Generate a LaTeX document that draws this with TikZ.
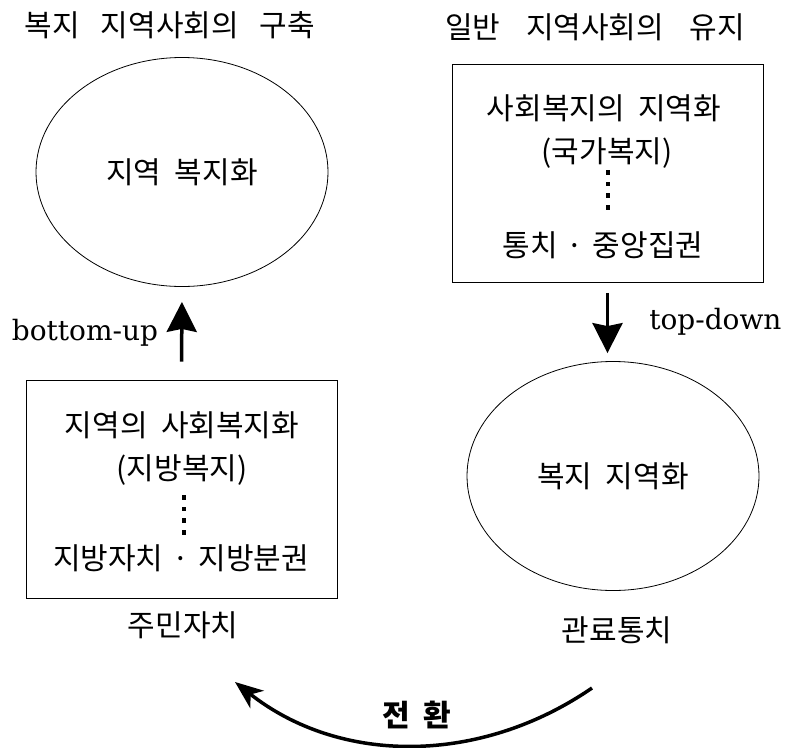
\documentclass[tikz,border=0pt]{standalone}
\usepackage{fontspec}
\setmainfont{DejaVu Serif}
\newfontfamily\kr[WordSpace=2.0]{Noto Sans CJK KR}
\usetikzlibrary{shapes.geometric,arrows.meta}

\begin{document}
\begin{tikzpicture}[x=1pt,y=-1pt,
    hangul/.style={font=\kr\fontsize{30}{34}\selectfont,inner sep=0pt},
    latin/.style={font=\fontsize{28}{32}\selectfont,inner sep=0pt},
    oval/.style={draw,ellipse,line width=0.8pt,minimum width=292pt,minimum height=229pt,hangul},
    panel/.style={draw,rectangle,line width=0.8pt,minimum width=311pt,minimum height=218pt,inner sep=0pt},
    flow/.style={line width=3.5pt,-{Stealth[length=30pt,width=30pt,inset=3pt]}}]
      % \draw[help lines](0,0) grid (787,747);
      \useasboundingbox (0,0) rectangle (787,747);

      \draw (170,25) node[hangul] (ltitle) {복지\hspace{0.7em}지역사회의\hspace{0.7em}구축};
      \draw (595,27) node[hangul] (rtitle) {일반\hspace{0.85em}지역사회의\hspace{0.85em}유지};

      \draw (182,172) node[oval] (lwelfare) {지역 복지화};
      \draw (613,476) node[oval] (rwelfare) {복지 지역화};

      \draw (607.5,173.5) node[panel] (rpanel) {};
      \draw (604,108) node[hangul] (rline1) {사회복지의 지역화};
      \draw (607,153) node[hangul] (rline2) {(국가복지)};
      \draw (603,245) node[hangul] (rline3) {통치\hspace{0.3em}·\hspace{0.3em}중앙집권};
      \foreach \d in {0,...,3}
        \fill (605.7,170+\d*11.7) rectangle ++(4.6,4.6);

      \draw (181.5,489) node[panel] (lpanel) {};
      \draw (182,425) node[hangul] (lline1) {지역의 사회복지화};
      \draw (182,470) node[hangul] (lline2) {(지방복지)};
      \draw (181,558) node[hangul] (lline3) {지방자치\hspace{0.3em}·\hspace{0.3em}지방분권};
      \foreach \d in {0,...,3}
        \fill (181.7,495+\d*11.7) rectangle ++(4.6,4.6);

      \draw (183,625) node[hangul] (residents) {주민자치};
      \draw (617,630) node[hangul] (bureau) {관료통치};

      \draw[flow,shorten <=18pt,shorten >=15pt] (lpanel.north) -- (lwelfare.south)
        node [midway,left=22pt,latin] (bottomup) {bottom-up};
      \draw[flow,shorten <=10pt,shorten >=8pt] (rpanel.south) -- (rpanel.south |- rwelfare.north)
        node [midway,right=40pt,latin] (topdown) {top-down};

      \coordinate (turnR) at (592,688);
      \coordinate (turnL) at (235,682);
      \draw[line width=3.5pt,-{Stealth[length=28pt,width=22pt,inset=8pt]}]
        (turnR) .. controls (480,765) and (340,765) .. (turnL);
      \draw (417,715) node[hangul,font=\kr\bfseries\fontsize{30}{34}\selectfont] (shift) {전 환};
    \end{tikzpicture}
\end{document}
